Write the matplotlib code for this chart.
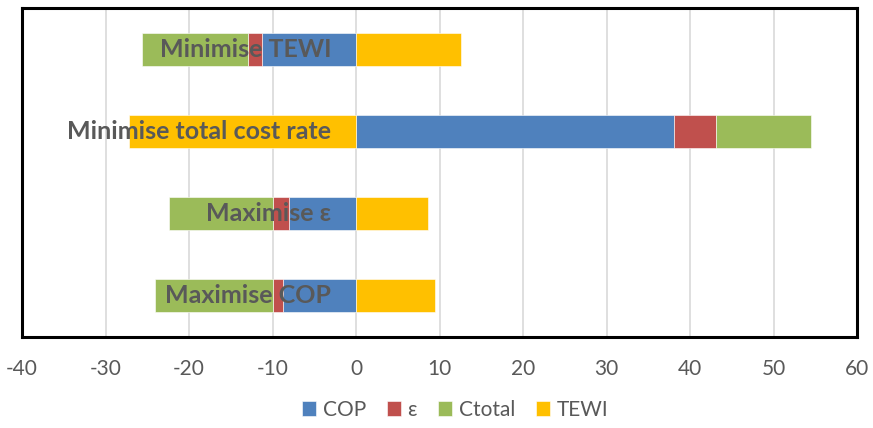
import matplotlib.pyplot as plt
import numpy as np

categories = ["Maximise COP", "Maximise ε", "Minimise total cost rate", "Minimise TEWI"]
series_names = ["COP", "ε", "Ctotal", "TEWI"]
cop = [-8.75, -8.0, 38.05, -11.25]
eps = [-1.25, -1.9, 5.05, -1.7]
ctotal = [-14.07, -12.5, 11.35, -12.65]
tewi = [9.46, 8.6, -27.2, 12.55]
colors = ["#4F81BD", "#C0504D", "#9BBB59", "#FFC000"]
xticks = [-40, -30, -20, -10, 0, 10, 20, 30, 40, 50, 60]

fig = plt.figure(figsize=(8.73, 4.28), dpi=100)
ax = fig.add_axes([22 / 873, 1 - 337 / 428, 835 / 873, 329 / 428])

y = np.arange(len(categories))
pos_base = np.zeros(len(categories))
neg_base = np.zeros(len(categories))
for name, vals, col in zip(series_names, [cop, eps, ctotal, tewi], colors):
    vals = np.array(vals)
    left = np.where(vals >= 0, pos_base, neg_base)
    ax.barh(y, vals, left=left, height=0.4, color=col, label=name,
            edgecolor="white", linewidth=0.4, zorder=3)
    pos_base += np.where(vals >= 0, vals, 0)
    neg_base += np.where(vals < 0, vals, 0)

# category labels sit just left of the zero line, over the bars
for yi, cat in zip(y, categories):
    ax.annotate(cat, (0, yi), xytext=(-18, 0), textcoords="offset points",
                ha="right", va="center", fontsize=18, fontweight="bold",
                color="#595959", family="Lato", zorder=5)

ax.set_xlim(-40, 60)
ax.set_ylim(-0.5, 3.5)
ax.set_xticks(xticks)
ax.set_xticklabels([str(t) for t in xticks], fontsize=15, color="#595959", family="Lato")
ax.tick_params(axis="x", length=0, pad=16)
ax.set_yticks([])
ax.grid(axis="x", color="#D9D9D9", linewidth=1.2, zorder=0)
for s in ax.spines.values():
    s.set_linewidth(2.2)
    s.set_color("black")

fig.legend(loc="center", bbox_to_anchor=(455 / 873, 18 / 428), ncol=4,
           frameon=False, handlelength=0.7, handleheight=0.7,
           handletextpad=0.3, columnspacing=1.0,
           prop={"family": "Lato", "size": 15}, labelcolor="#595959")

fig.savefig("out.png", dpi=100)
